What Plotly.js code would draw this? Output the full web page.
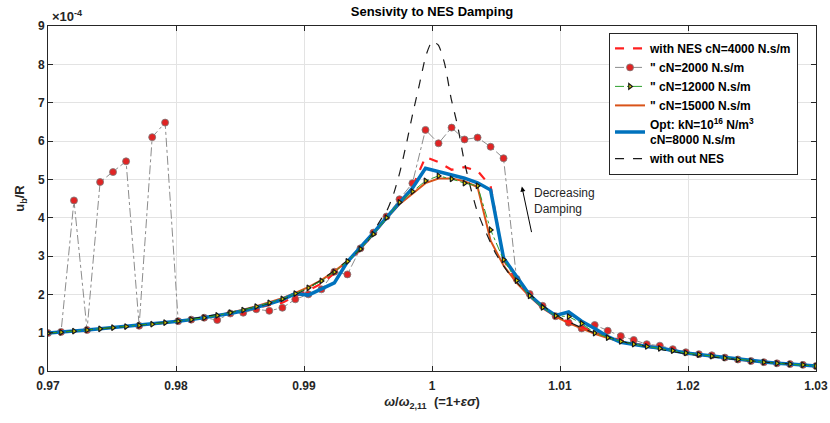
<!DOCTYPE html>
<html>
<head>
<meta charset="utf-8">
<script src="https://cdn.plot.ly/plotly-3.0.1.min.js"></script>
<style>html,body{margin:0;padding:0;background:#fff;}#chart{width:830px;height:423px;}</style>
</head>
<body>
<div id="chart"></div>
<script>
// frequency ratio samples (omega / omega_2,11)
var freq = [0.97000,0.97102,0.97203,0.97305,0.97407,0.97508,0.97610,0.97712,0.97814,0.97915,
            0.98017,0.98119,0.98220,0.98322,0.98424,0.98525,0.98627,0.98729,0.98831,0.98932,
            0.99034,0.99136,0.99237,0.99339,0.99441,0.99542,0.99644,0.99746,0.99847,0.99949,
            1.00051,1.00153,1.00254,1.00356,1.00458,1.00559,1.00661,1.00763,1.00864,1.00966,
            1.01068,1.01169,1.01271,1.01373,1.01475,1.01576,1.01678,1.01780,1.01881,1.01983,
            1.02085,1.02186,1.02288,1.02390,1.02492,1.02593,1.02695,1.02797,1.02898,1.03000];

// u_b/R in units of 1e-4
var cN4000 = [0.99,1.01,1.04,1.07,1.10,1.13,1.16,1.19,1.22,1.26,
              1.30,1.34,1.39,1.45,1.51,1.57,1.64,1.72,1.78,1.95,
              2.10,2.28,2.55,2.82,3.17,3.57,4.00,4.40,4.80,5.58,
              5.45,5.25,5.32,5.22,4.82,2.90,2.35,1.97,1.67,1.44,
              1.27,1.14,1.02,0.90,0.80,0.72,0.66,0.60,0.54,0.48,
              0.43,0.39,0.34,0.30,0.26,0.23,0.20,0.18,0.16,0.13];
var cN2000 = [0.99,1.02,4.45,1.07,4.93,5.19,5.47,1.18,6.10,6.48,
              1.30,1.34,1.39,1.33,1.50,1.52,1.61,1.57,1.65,1.87,
              2.00,2.13,2.59,2.52,3.20,3.61,4.03,4.48,4.90,6.29,
              5.94,6.35,6.04,6.09,5.85,5.55,2.40,2.01,1.70,1.43,
              1.26,1.11,1.20,1.05,0.91,0.81,0.70,0.66,0.57,0.49,
              0.44,0.41,0.35,0.30,0.26,0.23,0.20,0.18,0.16,0.13];
var cN12000 = [0.99,1.01,1.04,1.07,1.10,1.13,1.16,1.19,1.22,1.26,
               1.30,1.34,1.39,1.45,1.52,1.59,1.68,1.78,1.88,2.02,
               2.17,2.35,2.58,2.86,3.18,3.57,4.00,4.40,4.68,4.96,
               5.09,5.01,4.90,4.83,3.68,2.90,2.36,1.96,1.66,1.44,
               1.42,1.24,0.99,0.87,0.77,0.70,0.64,0.59,0.53,0.47,
               0.43,0.39,0.34,0.30,0.26,0.23,0.20,0.18,0.16,0.13];
var cN15000 = [0.99,1.01,1.04,1.07,1.10,1.13,1.16,1.19,1.22,1.26,
               1.30,1.34,1.39,1.45,1.52,1.60,1.69,1.79,1.90,2.04,
               2.19,2.37,2.60,2.86,3.18,3.57,3.98,4.35,4.62,4.90,
               5.02,5.02,4.95,4.80,3.40,2.75,2.30,1.94,1.64,1.42,
               1.25,1.10,0.97,0.86,0.76,0.69,0.63,0.58,0.52,0.47,
               0.43,0.39,0.34,0.30,0.26,0.23,0.20,0.18,0.16,0.13];
var optimal = [0.99,1.01,1.04,1.07,1.10,1.13,1.16,1.19,1.22,1.26,
               1.30,1.34,1.39,1.44,1.50,1.57,1.65,1.75,1.86,2.02,
               1.98,2.13,2.30,2.85,3.22,3.60,4.00,4.37,4.77,5.29,
               5.21,5.13,5.03,4.91,4.72,2.95,2.46,1.98,1.68,1.45,
               1.54,1.30,1.11,0.90,0.75,0.69,0.64,0.60,0.53,0.47,
               0.43,0.39,0.34,0.30,0.26,0.23,0.20,0.18,0.16,0.13];

var freqNoNES = [0.970,0.975,0.980,0.985,0.988,0.990,0.991,0.992,0.993,0.994,
                 0.995,0.996,0.9965,0.997,0.9975,0.998,0.9985,0.999,0.9995,1.000,
                 1.0005,1.001,1.0015,1.002,1.0025,1.003,1.0035,1.004,1.005,1.006,
                 1.007,1.008,1.009,1.010,1.012,1.015,1.020,1.025,1.030];
var noNES = [0.99,1.13,1.30,1.58,1.83,2.10,2.30,2.53,2.78,3.05,
             3.40,3.95,4.20,4.62,5.20,5.93,6.72,7.45,8.20,8.60,
             8.50,8.00,7.10,6.40,5.50,4.80,4.20,3.78,3.05,2.55,
             2.18,1.90,1.62,1.40,1.08,0.76,0.44,0.26,0.13];

var xTickVals = [0.97,0.98,0.99,1.00,1.01,1.02,1.03];
var xTickText = ['0.97','0.98','0.99','1','1.01','1.02','1.03'];
var yTickVals = [0,1,2,3,4,5,6,7,8,9];

var names = ['with NES cN=4000 N.s/m', '" cN=2000 N.s/m', '" cN=12000 N.s/m', '" cN=15000 N.s/m',
             'Opt: kN=10<sup>16</sup> N/m<sup>3</sup><br>cN=8000 N.s/m', 'with out NES'];

var traces = [
  {x: freq, y: cN2000, mode: 'lines+markers', name: names[1], legendrank: 2,
   line: {color: '#8c8c8c', width: 1, dash: 'dashdot'},
   marker: {symbol: 'circle', size: 7, color: '#E02424', line: {color: '#7a7a7a', width: 0.8}}},
  {x: freq, y: cN15000, mode: 'lines', name: names[3], legendrank: 4,
   line: {color: '#D95319', width: 2}},
  {x: freq, y: cN4000, mode: 'lines', name: names[0], legendrank: 1,
   line: {color: '#FF2020', width: 2.2, dash: 'dash'}},
  {x: freq, y: optimal, mode: 'lines', name: names[4], legendrank: 5,
   line: {color: '#0072BD', width: 3.5}},
  {x: freqNoNES, y: noNES, mode: 'lines', name: names[5], legendrank: 6,
   line: {color: '#1a1a1a', width: 1.2, dash: 'dash', shape: 'spline', smoothing: 0.5}},
  {x: freq, y: cN12000, mode: 'lines+markers', name: names[2], legendrank: 3,
   line: {color: '#2CA02C', width: 1, dash: 'dashdot'},
   marker: {symbol: 'triangle-right', size: 5, color: '#D8D000', line: {color: '#1a1a1a', width: 1.2}}}
];

var boldFont = {family: 'Liberation Sans, Arial, sans-serif', size: 12, color: '#262626', weight: 'bold'};

var layout = {
  width: 830, height: 423,
  margin: {l: 48, r: 14, t: 26, b: 52},
  paper_bgcolor: '#fff', plot_bgcolor: '#fff',
  showlegend: true,
  title: {text: 'Sensivity to NES Damping', x: 0.5205, xanchor: 'center', y: 0.972, yanchor: 'middle',
          yref: 'container', font: {family: 'Liberation Sans, Arial, sans-serif', size: 13, color: '#000', weight: 'bold'}},
  xaxis: {range: [0.97, 1.03], tickvals: xTickVals, ticktext: xTickText, ticks: 'inside', ticklen: 5,
          tickcolor: '#262626', showline: true, mirror: 'ticks', linecolor: '#262626', linewidth: 1,
          showgrid: true, gridcolor: '#e3e3e3', zeroline: false, tickfont: boldFont, ticklabelstandoff: 4,
          title: {text: '<i>ω</i>/<i>ω</i><sub>2,11</sub>  (=1+<i>εσ</i>)', standoff: 4,
                  font: {family: 'Liberation Sans, Arial, sans-serif', size: 13, color: '#262626', weight: 'bold'}}},
  yaxis: {range: [0, 9], tickvals: yTickVals, ticks: 'inside', ticklen: 5,
          tickcolor: '#262626', showline: true, mirror: 'ticks', linecolor: '#262626', linewidth: 1,
          showgrid: true, gridcolor: '#e3e3e3', zeroline: false, tickfont: boldFont,
          title: {text: 'u<sub>b</sub>/R', standoff: 10,
                  font: {family: 'Liberation Sans, Arial, sans-serif', size: 13, color: '#262626', weight: 'bold'}}},
  legend: {x: 0.7305, y: 0.98, xanchor: 'left', yanchor: 'top', bgcolor: '#fff',
           bordercolor: '#262626', borderwidth: 1, tracegroupgap: 0, itemwidth: 30,
           font: {family: 'Liberation Sans, Arial, sans-serif', size: 12, color: '#000', weight: 'bold'}},
  annotations: [
    {xref: 'paper', yref: 'paper', x: 0.002, y: 1.0, xanchor: 'left', yanchor: 'bottom', showarrow: false,
     text: '×10<sup>-4</sup>', font: {family: 'Liberation Sans, Arial, sans-serif', size: 13, color: '#262626', weight: 'bold'}},
    {xref: 'x', yref: 'y', x: 1.00702, y: 4.81, ax: 10, ay: 47, axref: 'pixel', ayref: 'pixel',
     showarrow: true, arrowhead: 2, arrowsize: 1, arrowwidth: 1, arrowcolor: '#000', text: ''},
    {xref: 'x', yref: 'y', x: 1.00783, y: 4.43, xanchor: 'left', yanchor: 'middle', showarrow: false, align: 'left',
     text: 'Decreasing<br>Damping', font: {family: 'Liberation Sans, Arial, sans-serif', size: 12, color: '#262626'}}
  ]
};

Plotly.newPlot('chart', traces, layout, {displayModeBar: false, staticPlot: true});
</script>
</body>
</html>
